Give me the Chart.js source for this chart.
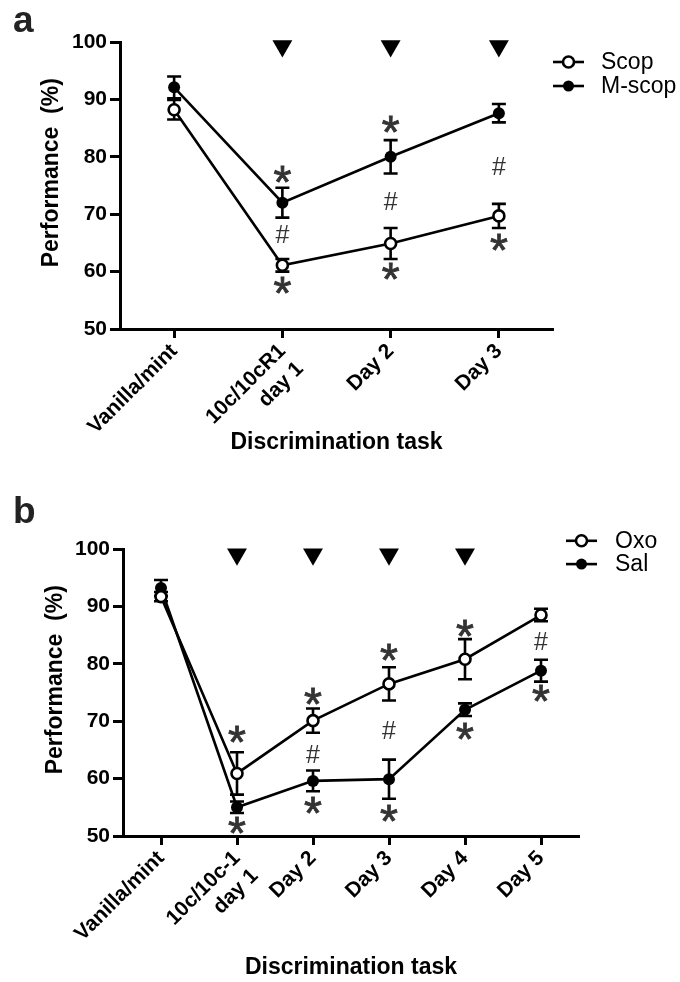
<!DOCTYPE html>
<html><head><meta charset="utf-8">
<script src="https://cdn.jsdelivr.net/npm/chart.js@4.4.1/dist/chart.umd.min.js"></script>
<style>
html,body{margin:0;padding:0;background:#fff;}
#wrap{position:relative;width:680px;height:982px;overflow:hidden;}
canvas{position:absolute;left:0;}
</style></head><body>
<div id="wrap">
<canvas id="ca" width="680" height="490" style="top:0px"></canvas>
<canvas id="cb" width="680" height="492" style="top:490px"></canvas>
</div>
<script>
// ---------- Panel a data ----------
const catsA = ['Vanilla/mint', ['10c/10cR1', 'day 1'], 'Day 2', 'Day 3'];
const scop = [88.2, 61.1, 64.9, 69.7];
const scopErr = [1.7, 1.1, 2.7, 2.1];
const mscop = [92.1, 72.0, 80.0, 87.6];
const mscopErr = [1.9, 2.6, 2.9, 1.6];
const sigA = [null, 99.3, 99.3, 99.3];
const marksA = [
  {i: 1, v: 76.9, t: '*'}, {i: 1, v: 66.5, t: '#'}, {i: 1, v: 57.5, t: '*'},
  {i: 2, v: 85.6, t: '*'}, {i: 2, v: 72.3, t: '#'}, {i: 2, v: 60.1, t: '*'},
  {i: 3, v: 78.4, t: '#'}, {i: 3, v: 65.0, t: '*'}
];
// ---------- Panel b data ----------
const catsB = ['Vanilla/mint', ['10c/10c-1', 'day 1'], 'Day 2', 'Day 3', 'Day 4', 'Day 5'];
const oxo = [91.7, 60.9, 70.1, 76.5, 80.8, 88.5];
const oxoErr = [0.8, 3.7, 2.1, 2.9, 3.5, 1.1];
const sal = [93.2, 55.0, 59.6, 59.9, 72.0, 78.8];
const salErr = [1.4, 1.0, 1.8, 3.4, 1.1, 1.9];
const sigB = [null, 99.1, 99.1, 99.1, 99.1, null];
const marksB = [
  {i: 1, v: 67.7, t: '*'}, {i: 1, v: 51.8, t: '*'},
  {i: 2, v: 74.3, t: '*'}, {i: 2, v: 64.3, t: '#'}, {i: 2, v: 55.3, t: '*'},
  {i: 3, v: 81.9, t: '*'}, {i: 3, v: 68.4, t: '#'}, {i: 3, v: 54.0, t: '*'},
  {i: 4, v: 86.2, t: '*'}, {i: 4, v: 68.2, t: '*'},
  {i: 5, v: 83.9, t: '#'}, {i: 5, v: 74.9, t: '*'}
];
const yTicks = [50, 60, 70, 80, 90, 100];

const FONT = "'Liberation Sans', Arial, sans-serif";
Chart.defaults.font.family = FONT;
Chart.defaults.color = '#000';

const errorBars = {
  id: 'errorBars',
  beforeDatasetsDraw(chart) {
    const ctx = chart.ctx, ys = chart.scales.y;
    chart.data.datasets.forEach((ds, di) => {
      if (!ds.errors) return;
      const meta = chart.getDatasetMeta(di);
      ctx.save();
      ctx.strokeStyle = '#000';
      ctx.lineWidth = 2.6;
      ctx.lineCap = 'butt';
      ds.data.forEach((v, i) => {
        if (v == null) return;
        const e = ds.errors[i];
        const px = meta.data[i].x;
        const yt = ys.getPixelForValue(v + e), yb = ys.getPixelForValue(v - e);
        ctx.beginPath();
        ctx.moveTo(px, yt); ctx.lineTo(px, yb);
        ctx.moveTo(px - 7, yt); ctx.lineTo(px + 7, yt);
        ctx.moveTo(px - 7, yb); ctx.lineTo(px + 7, yb);
        ctx.stroke();
      });
      ctx.restore();
    });
  }
};

function marksPlugin(items) {
  return {
    id: 'marks',
    afterDatasetsDraw(chart) {
      const ctx = chart.ctx, xs = chart.scales.x, ys = chart.scales.y;
      ctx.save();
      ctx.fillStyle = '#333';
      ctx.textAlign = 'left';
      ctx.textBaseline = 'alphabetic';
      items.forEach(m => {
        const px = xs.getPixelForValue(m.i), py = ys.getPixelForValue(m.v);
        ctx.font = m.t === '*' ? '46px ' + FONT : '25px ' + FONT;
        const mt = ctx.measureText(m.t);
        const x = px - (mt.actualBoundingBoxRight - mt.actualBoundingBoxLeft) / 2;
        const y = py + (mt.actualBoundingBoxAscent - mt.actualBoundingBoxDescent) / 2;
        ctx.fillText(m.t, x, y);
        if (m.t === '*') { ctx.lineWidth = 0.8; ctx.strokeStyle = '#333'; ctx.strokeText(m.t, x, y); }
      });
      ctx.restore();
    }
  };
}

function legendPlugin(cfg) {
  return {
    id: 'customLegend',
    afterDraw(chart) {
      const ctx = chart.ctx;
      ctx.save();
      // panel letter
      ctx.fillStyle = '#222';
      ctx.font = 'bold 37px ' + FONT;
      ctx.textAlign = 'left';
      ctx.textBaseline = 'alphabetic';
      ctx.fillText(cfg.letter, 13, cfg.letterY);
      // legend entries
      chart.data.datasets.forEach((ds, di) => {
        if (!ds.inLegend) return;
        const y = cfg.y0 + cfg.dy * di;
        ctx.strokeStyle = '#000';
        ctx.lineWidth = 2.6;
        ctx.beginPath(); ctx.moveTo(cfg.x0, y); ctx.lineTo(cfg.x1, y); ctx.stroke();
        const cx = (cfg.x0 + cfg.x1) / 2;
        ctx.beginPath(); ctx.arc(cx, y, 5.5, 0, Math.PI * 2);
        ctx.fillStyle = ds.pointBackgroundColor;
        ctx.fill();
        if (ds.pointBorderWidth > 0) { ctx.lineWidth = ds.pointBorderWidth; ctx.stroke(); }
        ctx.fillStyle = '#000';
        ctx.font = '23px ' + FONT;
        ctx.textBaseline = 'middle';
        ctx.fillText(ds.label, cfg.tx, y + 1);
        ctx.textBaseline = 'alphabetic';
      });
      ctx.restore();
    }
  };
}

function openSeries(label, data, err) {
  return {label, data, errors: err, inLegend: true,
    borderColor: '#000', borderWidth: 2.6, pointBackgroundColor: '#fff',
    pointBorderColor: '#000', pointBorderWidth: 2.6, pointRadius: 5.5, pointHoverRadius: 5.5,
    tension: 0, clip: false};
}
function filledSeries(label, data, err) {
  return {label, data, errors: err, inLegend: true,
    borderColor: '#000', borderWidth: 2.6, pointBackgroundColor: '#000',
    pointBorderColor: '#000', pointBorderWidth: 0, pointRadius: 6, pointHoverRadius: 6,
    tension: 0, clip: false};
}
function sigSeries(data) {
  return {label: 'sig', data, showLine: false, pointStyle: 'triangle', pointRotation: 180,
    pointRadius: 11.5, pointHoverRadius: 11.5, pointBackgroundColor: '#000', pointBorderWidth: 0,
    borderColor: '#000', clip: false, inLegend: false};
}

function makeChart(id, cats, datasets, g, plugins) {
  return new Chart(document.getElementById(id), {
    type: 'line',
    data: {labels: cats, datasets},
    options: {
      responsive: false, animation: false, events: [],
      layout: {padding: {top: g.top, right: g.right, left: 0, bottom: 0}},
      plugins: {legend: {display: false}, tooltip: {enabled: false}},
      scales: {
        x: {
          type: 'category', offset: true,
          border: {display: true, width: 3, color: '#000'},
          grid: {display: true, drawOnChartArea: false, drawTicks: true, tickLength: 9,
                 tickWidth: 3, tickColor: '#000', offset: false},
          ticks: {font: {size: 21, weight: 'bold'}, color: '#000', maxRotation: 45, minRotation: 45,
                  padding: 1, autoSkip: false},
          title: {display: true, text: 'Discrimination task', font: {size: 23, weight: 'bold'},
                  color: '#000', padding: {top: 0, bottom: g.xTitlePad}},
          afterFit: s => { s.height = g.xh; }
        },
        y: {
          min: 50, max: 100,
          border: {display: true, width: 3, color: '#000'},
          grid: {display: true, drawOnChartArea: false, drawTicks: true, tickLength: 10,
                 tickWidth: 3, tickColor: '#000'},
          afterBuildTicks: s => { s.ticks = yTicks.map(v => ({value: v})); },
          ticks: {font: {size: 21, weight: 'bold'}, color: '#000', padding: 3},
          title: {display: true, text: '    Performance  (%)', font: {size: 23, weight: 'bold'},
                  color: '#000', padding: {top: g.yTitlePad, bottom: 0}},
          afterFit: s => { s.width = g.yw; }
        }
      }
    },
    plugins: [errorBars].concat(plugins)
  });
}

makeChart('ca', catsA,
  [sigSeries(sigA), openSeries('Scop', scop, scopErr), filledSeries('M-scop', mscop, mscopErr)],
  {top: 42, right: 127, xh: 161, yw: 120, xTitlePad: 34, yTitlePad: 38},
  [marksPlugin(marksA), legendPlugin({letter: 'a', letterY: 32, x0: 553, x1: 584, tx: 601, y0: 38, dy: 24})]);

makeChart('cb', catsB,
  [sigSeries(sigB), openSeries('Oxo', oxo, oxoErr), filledSeries('Sal', sal, salErr)],
  {top: 59, right: 101, xh: 146, yw: 123, xTitlePad: 1, yTitlePad: 42},
  [marksPlugin(marksB), legendPlugin({letter: 'b', letterY: 33, x0: 566, x1: 597, tx: 615, y0: 27.5, dy: 23.3})]);
</script>
</body></html>
